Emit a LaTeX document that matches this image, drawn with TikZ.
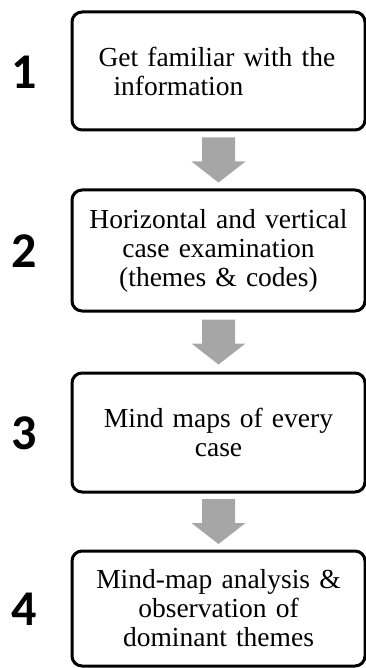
\documentclass[tikz,border=0pt]{standalone}
\usepackage{fontspec}
\setmainfont{Liberation Serif}
\newfontfamily\numfont{Carlito}
\usetikzlibrary{calc}
\newlength{\du}
\setlength{\du}{1pt}
\definecolor{arrowgray}{RGB}{166,166,166}
\tikzset{
  stepbox/.style={draw=black, line width=3\du, rounded corners=10\du, inner sep=0pt,
    minimum width=293\du, text width=280\du, align=center,
    font=\fontsize{27.5}{29}\selectfont},
  stepnum/.style={font=\numfont\bfseries\fontsize{50}{50}\selectfont, inner sep=0pt},
  blockarrow/.style={fill=arrowgray, draw=none}
}
\begin{document}
\begin{tikzpicture}
\pgftransformxscale{1.000000}
\pgftransformyscale{-1.000000}
\useasboundingbox (0\du,0\du) rectangle (366\du,668\du);
% boxes
\node[stepbox, minimum height=118\du, align=left] (b1) at (218.5\du,71\du){\hspace*{20\du}Get familiar with the\\\hspace*{35\du}information};
\node[stepbox, minimum height=121\du] (b2) at (218.5\du,250.5\du){Horizontal and vertical\\case examination\\(themes \& codes)};
\node[stepbox, minimum height=119\du] (b3) at (218.5\du,432.5\du){Mind maps of every\\case};
\node[stepbox, minimum height=115\du] (b4) at (218.5\du,608.5\du){Mind-map analysis \&\\observation of\\dominant themes};
% numbers
\node[stepnum] (n1) at (24\du,72\du){1};
\node[stepnum] (n2) at (24\du,251.5\du){2};
\node[stepnum] (n3) at (24\du,433.5\du){3};
\node[stepnum] (n4) at (24\du,609.5\du){4};
% arrows
\coordinate (m1) at ($(b1.south)!0.5!(b2.north)$);
\fill[blockarrow] ($(m1)+(-16.5\du,-22.5\du)$)--($(m1)+(16.5\du,-22.5\du)$)--($(m1)+(16.5\du,1.5\du)$)--($(m1)+(27\du,1.5\du)$)--($(m1)+(0\du,22.5\du)$)--($(m1)+(-27\du,1.5\du)$)--($(m1)+(-16.5\du,1.5\du)$)--cycle;
\coordinate (m2) at ($(b2.south)!0.5!(b3.north)$);
\fill[blockarrow] ($(m2)+(-16.5\du,-22.5\du)$)--($(m2)+(16.5\du,-22.5\du)$)--($(m2)+(16.5\du,1.5\du)$)--($(m2)+(27\du,1.5\du)$)--($(m2)+(0\du,22.5\du)$)--($(m2)+(-27\du,1.5\du)$)--($(m2)+(-16.5\du,1.5\du)$)--cycle;
\coordinate (m3) at ($(b3.south)!0.5!(b4.north)$);
\fill[blockarrow] ($(m3)+(-16.5\du,-22.5\du)$)--($(m3)+(16.5\du,-22.5\du)$)--($(m3)+(16.5\du,1.5\du)$)--($(m3)+(27\du,1.5\du)$)--($(m3)+(0\du,22.5\du)$)--($(m3)+(-27\du,1.5\du)$)--($(m3)+(-16.5\du,1.5\du)$)--cycle;
\end{tikzpicture}
\end{document}
